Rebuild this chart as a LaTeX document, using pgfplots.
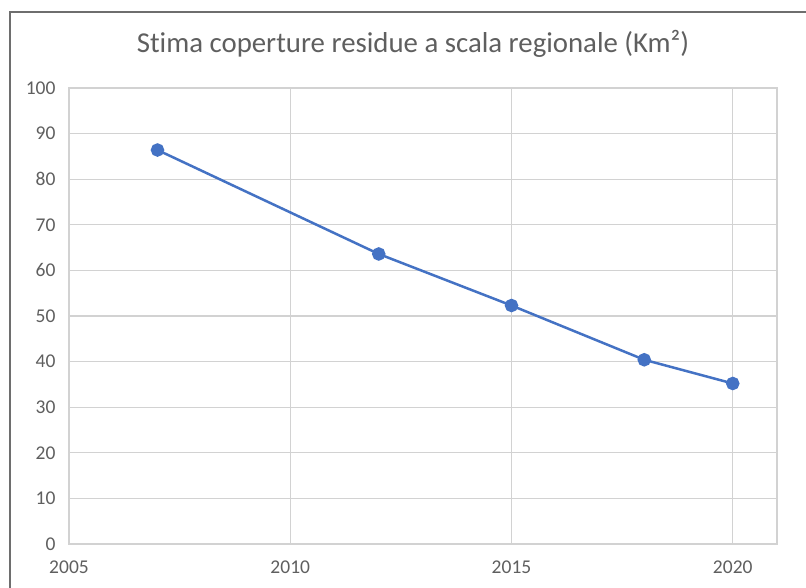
\documentclass[border=0pt]{standalone}
\usepackage{pgfplots}
\pgfplotsset{compat=1.18}
\usepackage{fontspec}
\setmainfont{Carlito}[Ligatures=NoCommon]
\definecolor{txt}{RGB}{95,95,95}
\definecolor{gridc}{RGB}{210,210,210}
\definecolor{line}{RGB}{68,114,196}
\definecolor{frame}{RGB}{110,110,110}
\begin{document}
\begin{tikzpicture}[x=1pt,y=1pt]
\path[use as bounding box] (0,0) rectangle (806,588);
\fill[white] (0,0) rectangle (806,588);
\draw[frame, line width=2pt] (10,0) -- (10,576) -- (806,576);
\node[txt, font=\fontsize{28.8}{32}\selectfont] at (413,544) {Stima coperture residue a scala regionale (Km²)};
\begin{axis}[
  at={(69pt,44pt)}, anchor=south west,
  scale only axis, width=708pt, height=456pt,
  xmin=2005, xmax=2021, ymin=0, ymax=100,
  xtick={2005,2010,2015,2020}, ytick={0,10,...,100},
  xticklabel style={/pgf/number format/1000 sep={}},
  /pgf/number format/assume math mode=true,
  tick label style={txt, font=\fontsize{19.5}{22}\selectfont},
  major tick length=0pt,
  xticklabel style={yshift=-13pt},
  yticklabel style={xshift=-10pt},
  grid=major, grid style={gridc, line width=1.2pt},
  axis line style={draw=gridc, line width=1.2pt},
]
\addplot[line, line width=2.5pt, mark=*, mark size=5.5pt, mark options={fill=line, draw=line}] coordinates {
(2007,86.4) (2012,63.6) (2015,52.3) (2018,40.4) (2020,35.2)
};
\end{axis}
\end{tikzpicture}
\end{document}
